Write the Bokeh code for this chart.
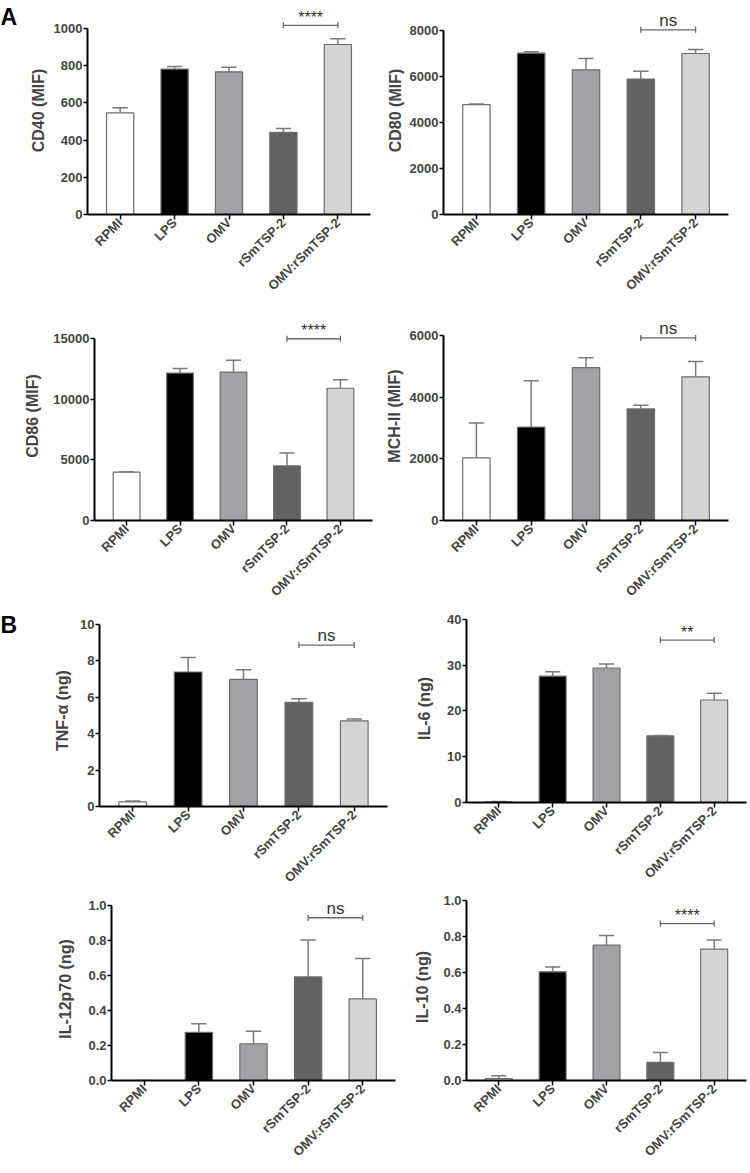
import math
from bokeh.plotting import figure
from bokeh.models import (FactorRange, Range1d, FixedTicker, NumeralTickFormatter,
                          ColumnDataSource)
from bokeh.layouts import column, row
from bokeh.transform import dodge
from bokeh.core.properties import value
from bokeh.embed import file_html
from bokeh.resources import INLINE

# ---------------- data ----------------
groups = ["RPMI", "LPS", "OMV", "rSmTSP-2", "OMV:rSmTSP-2"]

cd40_mean = [546, 782, 767, 442, 914]
cd40_err = [28, 14, 25, 21, 31]
cd80_mean = [4780, 7014, 6290, 5890, 7000]
cd80_err = [25, 57, 490, 340, 170]
cd86_mean = [3990, 12150, 12230, 4500, 10900]
cd86_err = [30, 380, 980, 1060, 710]
mhc_mean = [2030, 3030, 4960, 3620, 4660]
mhc_err = [1130, 1500, 320, 120, 500]
tnf_mean = [0.25, 7.39, 6.98, 5.72, 4.70]
tnf_err = [0.05, 0.79, 0.53, 0.20, 0.11]
il6_mean = [0.15, 27.6, 29.4, 14.55, 22.4]
il6_err = [0.05, 1.0, 0.85, 0.08, 1.5]
il12_mean = [0.0, 0.275, 0.21, 0.592, 0.466]
il12_err = [0.0, 0.049, 0.071, 0.211, 0.231]
il10_mean = [0.010, 0.604, 0.752, 0.101, 0.730]
il10_err = [0.017, 0.026, 0.053, 0.055, 0.051]

y_labels = ["CD40 (MIF)", "CD80 (MIF)", "CD86 (MIF)", "MCH-II (MIF)",
            "TNF-α (ng)", "IL-6 (ng)", "IL-12p70 (ng)", "IL-10 (ng)"]
y_ticks = [[0, 200, 400, 600, 800, 1000],
           [0, 2000, 4000, 6000, 8000],
           [0, 5000, 10000, 15000],
           [0, 2000, 4000, 6000],
           [0, 2, 4, 6, 8, 10],
           [0, 10, 20, 30, 40],
           [0.0, 0.2, 0.4, 0.6, 0.8, 1.0],
           [0.0, 0.2, 0.4, 0.6, 0.8, 1.0]]
sig_labels = ["****", "ns", "****", "ns", "ns", "**", "ns", "****"]
sig_levels = [1017, 8030, 14980, 5920, 8.87, 35.5, 0.93, 0.872]
panel_letters = ["A", "B"]

means = [cd40_mean, cd80_mean, cd86_mean, mhc_mean, tnf_mean, il6_mean, il12_mean, il10_mean]
errs = [cd40_err, cd80_err, cd86_err, mhc_err, tnf_err, il6_err, il12_err, il10_err]

# ---------------- style ----------------
bar_colors = ["#ffffff", "#000000", "#a2a2a6", "#626262", "#d4d4d4"]
FONT = "Arial"
ERR_COLOR = "#7a7a7a"
BAR_LINE = "#6e6e6e"
BRACKET = "#6a6a6a"
label_standoffs = [4, 3, 9, 4, 6, 11, 11, 9]


def make_panel(i, width, height, mbl, mbr, mbt, mbb, y_end, fmt):
    p = figure(x_range=FactorRange(factors=groups, range_padding=0.1,
                                   range_padding_units="absolute"),
               y_range=Range1d(0, y_end), width=width, height=height,
               min_border_left=mbl, min_border_right=mbr,
               min_border_top=mbt, min_border_bottom=mbb,
               output_backend="svg", toolbar_location=None, tools="")
    p.outline_line_color = None
    p.xgrid.visible = False
    p.ygrid.visible = False

    m = means[i]
    e = errs[i]
    src = ColumnDataSource(dict(g=groups, m=m, hi=[a + b for a, b in zip(m, e)],
                                c=bar_colors))
    p.vbar(x="g", top="m", bottom=0, width=0.5, fill_color="c",
           line_color=BAR_LINE, line_width=1.2, source=src)
    p.segment(x0="g", y0="m", x1="g", y1="hi", line_color=ERR_COLOR,
              line_width=1.5, source=src)
    p.segment(x0=dodge("g", -0.14, range=p.x_range), y0="hi",
              x1=dodge("g", 0.14, range=p.x_range), y1="hi",
              line_color=ERR_COLOR, line_width=1.5, source=src)

    # significance bracket
    lvl = sig_levels[i]
    bsrc = ColumnDataSource(dict(x0=[groups[3]], x1=[groups[4]], y=[lvl],
                                 t=[sig_labels[i]]))
    p.segment(x0="x0", y0="y", x1="x1", y1="y", line_color=BRACKET,
              line_width=1.3, source=bsrc)
    p.scatter(x=[groups[3], groups[4]], y=[lvl, lvl], marker="dash",
              angle=math.pi / 2, size=6, line_color=BRACKET, line_width=1.3)
    stars = sig_labels[i].startswith("*")
    p.text(x=dodge("x0", 0.5, range=p.x_range), y="y", text="t", source=bsrc,
           text_align="center", text_baseline=("middle" if stars else "bottom"),
           y_offset=(-8 if stars else 0),
           text_font=value(FONT), text_font_size=("16px" if stars else "17px"),
           text_color="#333333")

    # axes
    yax = p.yaxis[0]
    yax.bounds = (0, y_ticks[i][-1])
    yax.ticker = FixedTicker(ticks=y_ticks[i])
    yax.formatter = NumeralTickFormatter(format=fmt)
    yax.axis_label = y_labels[i]
    yax.axis_label_text_font = FONT
    yax.axis_label_text_font_style = "bold"
    yax.axis_label_text_font_size = "16px"
    yax.axis_label_standoff = label_standoffs[i]
    yax.major_label_text_font = FONT
    yax.major_label_text_font_style = "bold"
    yax.major_label_text_font_size = "13px"
    yax.major_label_standoff = 1

    for ax in (yax, p.xaxis[0]):
        ax.axis_line_width = 2
        ax.axis_line_color = "black"
        ax.major_tick_line_width = 1.5
        ax.major_tick_line_color = "black"
        ax.major_tick_in = 0
        ax.minor_tick_line_color = None
    yax.major_tick_out = 4

    xax = p.xaxis[0]
    xax.major_tick_out = 5
    xax.major_label_orientation = math.pi / 4
    xax.major_label_text_font = FONT
    xax.major_label_text_font_style = "bold"
    xax.major_label_text_font_size = "13px"
    xax.major_label_text_line_height = 1.0
    xax.major_label_standoff = 1
    return p


def letter_fig(k, width, height):
    f = figure(x_range=Range1d(0, width), y_range=Range1d(0, height),
               width=width, height=height, min_border=0,
               output_backend="svg", toolbar_location=None, tools="")
    f.axis.visible = False
    f.grid.visible = False
    f.outline_line_color = None
    f.text(x=[0], y=[height + 3], text=[panel_letters[k]], text_align="left",
           text_baseline="top", text_font=value(FONT), text_font_style="bold",
           text_font_size="23px", text_color="black")
    return f


# row 1  (page y 0..305)
la = letter_fig(0, 26, 305)
p1 = make_panel(0, 349, 305, 58, 5, 6, 91, 1118.3, "0")
p2 = make_panel(1, 373, 305, 68, 20, 6, 91, 9043, "0")
# row 2  (305..611)
p3 = make_panel(2, 375, 306, 94, 3, 6, 91, 17225, "0")
p4 = make_panel(3, 373, 306, 68, 20, 6, 91, 6778, "0")
# rows 3-4, left column (611..1171)
lb = letter_fig(1, 28, 286)
p5 = make_panel(4, 372, 286, 71, 13, 3, 91, 10.549, "0")
p7 = make_panel(6, 400, 274, 111, 5, 0, 91, 1.0457, "0.0")
# rows 3-4, right column (611..1171)
p6 = make_panel(5, 348, 282, 64, 2, 3, 91, 41.09, "0")
p8 = make_panel(7, 348, 278, 66, 2, 0, 91, 1.0389, "0.0")

layout = column(row(la, p1, p2),
                row(p3, p4),
                row(column(row(lb, p5), p7), column(p6, p8)))

open("out.html", "w").write(file_html(layout, INLINE))
